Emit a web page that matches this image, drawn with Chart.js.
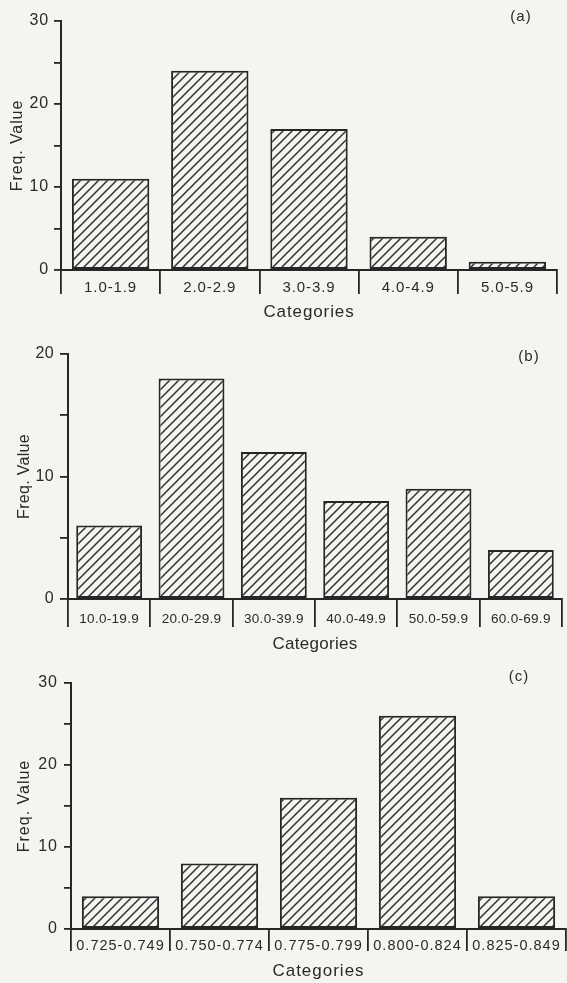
<!DOCTYPE html>
<html>
<head>
<meta charset="utf-8">
<script src="https://cdn.jsdelivr.net/npm/chart.js@4.4.1/dist/chart.umd.min.js"></script>
<style>
  html, body { margin: 0; padding: 0; background: #f4f4f1; }
  body { width: 567px; height: 983px; position: relative; overflow: hidden; }
  canvas { position: absolute; left: 0; display: block; }
</style>
</head>
<body>
<canvas id="chartA" width="567" height="325" style="top:0px"></canvas>
<canvas id="chartB" width="567" height="335" style="top:325px"></canvas>
<canvas id="chartC" width="567" height="323" style="top:660px"></canvas>
<script>
// ---- (a) frequency per class ----
const categoriesA = ['1.0-1.9', '2.0-2.9', '3.0-3.9', '4.0-4.9', '5.0-5.9'];
const freqA = [11, 24, 17, 4, 1];
const yLabelsA = [0, 10, 20, 30];

// ---- (b) frequency per class ----
const categoriesB = ['10.0-19.9', '20.0-29.9', '30.0-39.9', '40.0-49.9', '50.0-59.9', '60.0-69.9'];
const freqB = [6, 18, 12, 8, 9, 4];
const yLabelsB = [0, 10, 20];

// ---- (c) frequency per class ----
const categoriesC = ['0.725-0.749', '0.750-0.774', '0.775-0.799', '0.800-0.824', '0.825-0.849'];
const freqC = [4, 8, 16, 26, 4];
const yLabelsC = [0, 10, 20, 30];

const PAPER = '#f4f4f1';
const INK = '#262626';
const TEXT = '#2a2a2a';
const FONT = '"Liberation Sans", Arial, sans-serif';

// diagonal "/" hatching on paper-coloured ground
function hatchPattern(ctx) {
  const s = 9;
  const c = document.createElement('canvas');
  c.width = s; c.height = s;
  const g = c.getContext('2d');
  g.fillStyle = PAPER;
  g.fillRect(0, 0, s, s);
  g.strokeStyle = '#303030';
  g.lineWidth = 1.5;
  g.beginPath();
  g.moveTo(0, s); g.lineTo(s, 0);
  g.moveTo(-2, 2); g.lineTo(2, -2);
  g.moveTo(s - 2, s + 2); g.lineTo(s + 2, s - 2);
  g.stroke();
  return ctx.createPattern(c, 'repeat');
}

// letter spacing for all chart text + the panel tag in the corner
const textLook = {
  id: 'textLook',
  beforeDraw(chart, args, opts) {
    chart.ctx.letterSpacing = (opts.spacing || 0) + 'px';
  },
  afterDraw(chart, args, opts) {
    if (!opts.tag) return;
    const ctx = chart.ctx;
    ctx.save();
    ctx.letterSpacing = '1px';
    ctx.fillStyle = TEXT;
    ctx.font = '15px ' + FONT;
    ctx.textAlign = 'center';
    ctx.textBaseline = 'middle';
    ctx.fillText(opts.tag, opts.tagX, opts.tagY);
    ctx.restore();
  }
};

function buildChart(id, labels, values, yMax, yLabels, L) {
  const canvas = document.getElementById(id);
  const ctx = canvas.getContext('2d');
  return new Chart(ctx, {
    type: 'bar',
    data: {
      labels: labels,
      datasets: [{
        data: values,
        backgroundColor: hatchPattern(ctx),
        borderColor: INK,
        borderWidth: 2,
        borderSkipped: false,
        barPercentage: L.barPct,
        categoryPercentage: 1.0
      }]
    },
    options: {
      responsive: false,
      animation: false,
      devicePixelRatio: 1,
      layout: { padding: { top: L.padTop, right: L.padRight, left: 0, bottom: 0 } },
      plugins: {
        legend: { display: false },
        tooltip: { enabled: false },
        textLook: { spacing: L.spacing, tag: L.tag, tagX: L.tagX, tagY: L.tagY }
      },
      scales: {
        x: {
          type: 'category',
          offset: true,
          grid: {
            offset: true,
            drawOnChartArea: false,
            drawTicks: true,
            tickLength: L.divLen,
            color: INK,
            lineWidth: 1.8
          },
          border: { display: true, color: INK, width: 2 },
          ticks: {
            autoSkip: false,
            maxRotation: 0,
            minRotation: 0,
            padding: L.xTickPad,
            color: TEXT,
            font: { family: FONT, size: L.xTickSize }
          },
          title: {
            display: true,
            text: 'Categories',
            color: TEXT,
            font: { family: FONT, size: 17 },
            padding: { top: 0, bottom: L.xTitlePad }
          },
          afterFit(scale) { scale.height = L.xHeight; }
        },
        y: {
          type: 'linear',
          min: 0,
          max: yMax,
          grid: {
            drawOnChartArea: false,
            drawTicks: true,
            tickLength: L.yTickLen,
            color: INK,
            lineWidth: 1.8
          },
          border: { display: true, color: INK, width: 2 },
          ticks: {
            stepSize: 5,
            padding: L.yTickPad,
            color: TEXT,
            font: { family: FONT, size: 16 },
            callback: (v) => (yLabels.includes(v) ? String(v) : '')
          },
          title: {
            display: true,
            text: 'Freq. Value',
            color: TEXT,
            font: { family: FONT, size: 16 },
            padding: { top: L.yTitlePad, bottom: 0 }
          },
          afterFit(scale) { scale.width = L.yWidth; }
        }
      }
    },
    plugins: [textLook]
  });
}

buildChart('chartA', categoriesA, freqA, 30, yLabelsA, {
  padTop: 21, padRight: 10, yWidth: 61, xHeight: 55,
  barPct: 0.78, divLen: 24, xTickPad: -15, xTickSize: 15,
  xTitlePad: 2, yTickLen: 7, yTickPad: 5, yTitlePad: 8,
  spacing: 0.9, tag: '(a)', tagX: 521, tagY: 17
});

buildChart('chartB', categoriesB, freqB, 20, yLabelsB, {
  padTop: 29, padRight: 5, yWidth: 68, xHeight: 61,
  barPct: 0.8, divLen: 28, xTickPad: -16, xTickSize: 13.5,
  xTitlePad: 5, yTickLen: 8, yTickPad: 6, yTitlePad: 15,
  spacing: 0.3, tag: '(b)', tagX: 529, tagY: 32
});

buildChart('chartC', categoriesC, freqC, 30, yLabelsC, {
  padTop: 23, padRight: 1, yWidth: 71, xHeight: 54,
  barPct: 0.78, divLen: 22, xTickPad: -14, xTickSize: 14.5,
  xTitlePad: 1, yTickLen: 7, yTickPad: 6, yTitlePad: 15,
  spacing: 1.0, tag: '(c)', tagX: 519, tagY: 17
});
</script>
</body>
</html>
